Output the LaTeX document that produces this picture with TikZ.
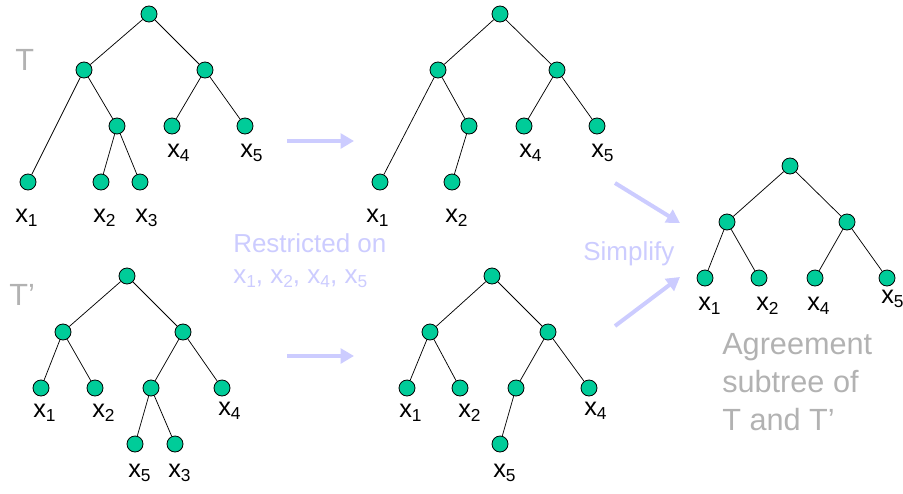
\documentclass[tikz,border=0pt]{standalone}
\usepackage{fontspec}
\setmainfont{Liberation Sans}
\usetikzlibrary{arrows.meta}
\definecolor{tealc}{RGB}{0,204,153}
\definecolor{lav}{RGB}{204,204,255}
\definecolor{greyt}{RGB}{178,178,178}
\newcommand\xl[1]{x\raisebox{-0.35ex}{\fontsize{13}{13}\selectfont #1}}
\tikzset{
  vtx/.style={circle, draw=black, fill=tealc, minimum size=12pt, inner sep=0pt, line width=0.6pt},
  edge/.style={draw=black, line width=0.55pt},
  lbl/.style={anchor=base west, inner sep=0pt, font=\fontsize{19}{21}\selectfont},
  bigarrow/.style={draw=lav, line width=3pt, -{Triangle[length=10pt,width=11pt]}},
  lavtext/.style={anchor=base west, inner sep=0pt, text=lav, font=\fontsize{19.5}{21}\selectfont},
  greytext/.style={anchor=base west, inner sep=0pt, text=greyt, font=\fontsize{23}{28}\selectfont},
}
\begin{document}
\begin{tikzpicture}[x=0.75pt, y=-0.75pt]
\useasboundingbox (0,0) rectangle (903,493);
% ---------- Tree T (top-left)
\node[vtx] (a0) at (149,14) {};
\node[vtx] (a1) at (84,70) {};
\node[vtx] (a2) at (205,70) {};
\node[vtx] (a3) at (28,182) {};
\node[vtx] (a4) at (117,126) {};
\node[vtx] (a5) at (101,182) {};
\node[vtx] (a6) at (140,182) {};
\node[vtx] (a7) at (172,126) {};
\node[vtx] (a8) at (245,126) {};
\draw[edge] (a0)--(a1) (a0)--(a2) (a1)--(a3) (a1)--(a4) (a4)--(a5) (a4)--(a6) (a2)--(a7) (a2)--(a8);
\node[lbl] (la1) at (15,222) {\xl{1}};
\node[lbl] (la2) at (93,222) {\xl{2}};
\node[lbl] (la3) at (135,222) {\xl{3}};
\node[lbl] (la4) at (167,157) {\xl{4}};
\node[lbl] (la5) at (240,157) {\xl{5}};
\node[greytext] (tT) at (15,70) {T};
% ---------- Tree T restricted (top-middle)
\node[vtx] (b0) at (500,14) {};
\node[vtx] (b1) at (438,70) {};
\node[vtx] (b2) at (557,70) {};
\node[vtx] (b3) at (380,182) {};
\node[vtx] (b4) at (469,126) {};
\node[vtx] (b5) at (452,182) {};
\node[vtx] (b7) at (524,126) {};
\node[vtx] (b8) at (597,126) {};
\draw[edge] (b0)--(b1) (b0)--(b2) (b1)--(b3) (b1)--(b4) (b4)--(b5) (b2)--(b7) (b2)--(b8);
\node[lbl] (lb1) at (366,222) {\xl{1}};
\node[lbl] (lb2) at (445,222) {\xl{2}};
\node[lbl] (lb4) at (519,157) {\xl{4}};
\node[lbl] (lb5) at (591,157) {\xl{5}};
% ---------- Tree T' (bottom-left)
\node[vtx] (c0) at (127,276) {};
\node[vtx] (c1) at (63,332) {};
\node[vtx] (c2) at (183,332) {};
\node[vtx] (c3) at (41,388) {};
\node[vtx] (c4) at (95,388) {};
\node[vtx] (c5) at (151,388) {};
\node[vtx] (c6) at (222,388) {};
\node[vtx] (c7) at (135,444) {};
\node[vtx] (c8) at (175,444) {};
\draw[edge] (c0)--(c1) (c0)--(c2) (c1)--(c3) (c1)--(c4) (c2)--(c5) (c2)--(c6) (c5)--(c7) (c5)--(c8);
\node[lbl] (lc1) at (33,417) {\xl{1}};
\node[lbl] (lc2) at (92,417) {\xl{2}};
\node[lbl] (lc4) at (218,415) {\xl{4}};
\node[lbl] (lc5) at (128,477) {\xl{5}};
\node[lbl] (lc3) at (168,477) {\xl{3}};
\node[greytext] (tTp) at (9,305) {T’};
% ---------- Tree T' restricted (bottom-middle)
\node[vtx] (d0) at (492,276) {};
\node[vtx] (d1) at (430,332) {};
\node[vtx] (d2) at (548,332) {};
\node[vtx] (d3) at (407,388) {};
\node[vtx] (d4) at (460,388) {};
\node[vtx] (d5) at (516,388) {};
\node[vtx] (d6) at (589,388) {};
\node[vtx] (d7) at (500,444) {};
\draw[edge] (d0)--(d1) (d0)--(d2) (d1)--(d3) (d1)--(d4) (d2)--(d5) (d2)--(d6) (d5)--(d7);
\node[lbl] (ld1) at (399,417) {\xl{1}};
\node[lbl] (ld2) at (458,417) {\xl{2}};
\node[lbl] (ld4) at (584,415) {\xl{4}};
\node[lbl] (ld5) at (493,477) {\xl{5}};
% ---------- Agreement subtree (right)
\node[vtx] (e0) at (790,166) {};
\node[vtx] (e1) at (727,222) {};
\node[vtx] (e2) at (847,222) {};
\node[vtx] (e3) at (705,278) {};
\node[vtx] (e4) at (759,278) {};
\node[vtx] (e5) at (815,278) {};
\node[vtx] (e6) at (887,278) {};
\draw[edge] (e0)--(e1) (e0)--(e2) (e1)--(e3) (e1)--(e4) (e2)--(e5) (e2)--(e6);
\node[lbl] (le1) at (698,310) {\xl{1}};
\node[lbl] (le2) at (756,310) {\xl{2}};
\node[lbl] (le4) at (807,310) {\xl{4}};
\node[lbl] (le5) at (881,303) {\xl{5}};
\node[greytext] (agr) at (722,354) {Agreement};
\node[greytext] (agr2) at (722,392) {subtree of};
\node[greytext] (agr3) at (722,430) {T and T’};
% ---------- Arrows and labels
\coordinate (p1s) at (287,141); \coordinate (p1e) at (354,141);
\coordinate (p2s) at (287,356); \coordinate (p2e) at (354,356);
\coordinate (p3s) at (615,183); \coordinate (p3e) at (680,223);
\coordinate (p4s) at (615,326); \coordinate (p4e) at (680,277);
\draw[bigarrow] (p1s) -- (p1e);
\draw[bigarrow] (p2s) -- (p2e);
\draw[bigarrow] (p3s) -- (p3e);
\draw[bigarrow] (p4s) -- (p4e);
\node[lavtext] (rst) at (233,252) {Restricted on};
\node[lavtext] (rst2) at (233,283) {\xl{1}, \xl{2}, \xl{4}, \xl{5}};
\node[lavtext] (smp) at (583,260) {Simplify};
\end{tikzpicture}
\end{document}
